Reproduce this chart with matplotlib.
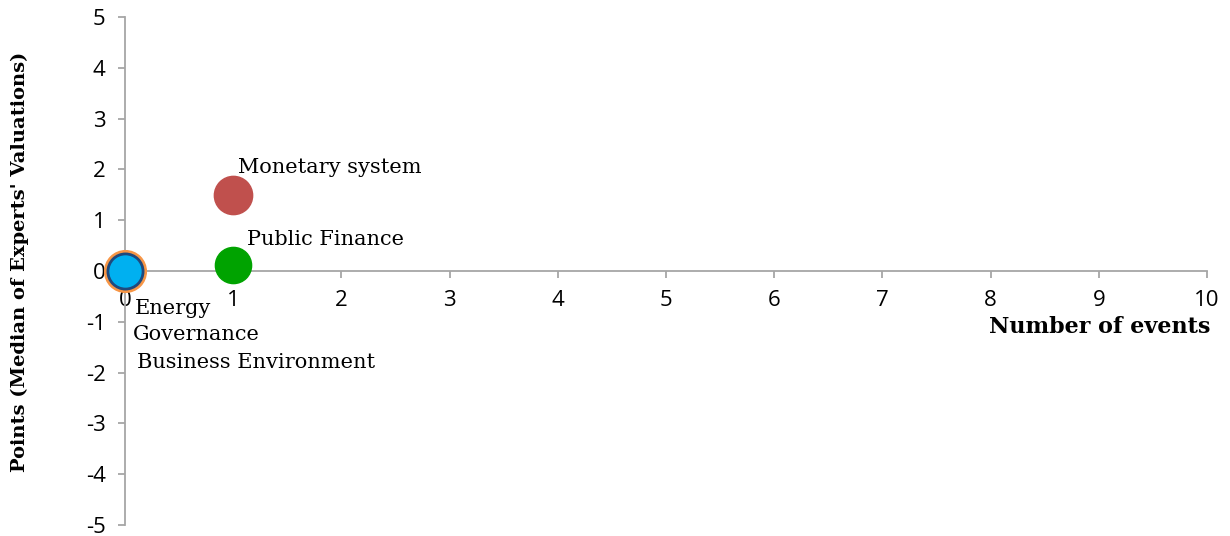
import matplotlib
matplotlib.use('Agg')
import matplotlib.pyplot as plt

plt.rcParams['font.family'] = ['Open Sans', 'DejaVu Sans']
plt.rcParams['axes.unicode_minus'] = False

# data
names = ['Monetary system', 'Public Finance', 'Energy', 'Governance', 'Business Environment']
events = [1, 1, 0, 0, 0]
points = [1.5, 0.12, 0, 0, 0]
colors = ['#C0504D', '#00A300', '#F79646', '#1F497D', '#00B0F0']

xticks = list(range(0, 11))
yticks = list(range(-5, 6))

fig = plt.figure(figsize=(12.3, 5.36), dpi=100)
ax = fig.add_axes([125/1230, 11/536, 1082/1230, 508/536])
ax.set_xlim(0, 10)
ax.set_ylim(-5, 5)

gray = '#A6A6A6'
for side in ['top', 'right']:
    ax.spines[side].set_visible(False)
ax.spines['left'].set_position(('data', 0))
ax.spines['bottom'].set_position(('data', 0))
for side in ['left', 'bottom']:
    ax.spines[side].set_color(gray)
    ax.spines[side].set_linewidth(1.3)

ax.set_xticks(xticks)
ax.set_yticks(yticks)
ax.tick_params(axis='both', colors=gray, labelcolor='black', direction='out',
               length=5, width=1.3, labelsize=16, pad=9)

# markers: the three zero points stack up
ax.scatter(events[0], points[0], s=760, color=colors[0], zorder=3, clip_on=False)
ax.scatter(events[1], points[1], s=680, color=colors[1], zorder=3, clip_on=False)
ax.scatter(events[2], points[2], s=900, color=colors[2], zorder=3, clip_on=False)
ax.scatter(events[4], points[4], s=640, color=colors[4], edgecolor=colors[3],
           linewidth=2, zorder=4, clip_on=False)

serif = 'DejaVu Serif'
offsets = [(5, 27), (14, 25), (10, -37), (8, -64), (12, -91)]
for n, x, y, off in zip(names, events, points, offsets):
    ax.annotate(n, (x, y), xytext=off, textcoords='offset pixels',
                ha='left', va='center', fontsize=15, family=serif, zorder=5)

ax.text(1.003, 0.39, 'Number of events', transform=ax.transAxes, ha='right',
        va='center', fontsize=16, fontweight='bold', family=serif)
fig.text(20/1230, 1 - 262/536, "Points (Median of Experts' Valuations)", rotation=90,
         ha='center', va='center', fontsize=14, fontweight='bold', family=serif)

plt.savefig('out.png', dpi=100)
